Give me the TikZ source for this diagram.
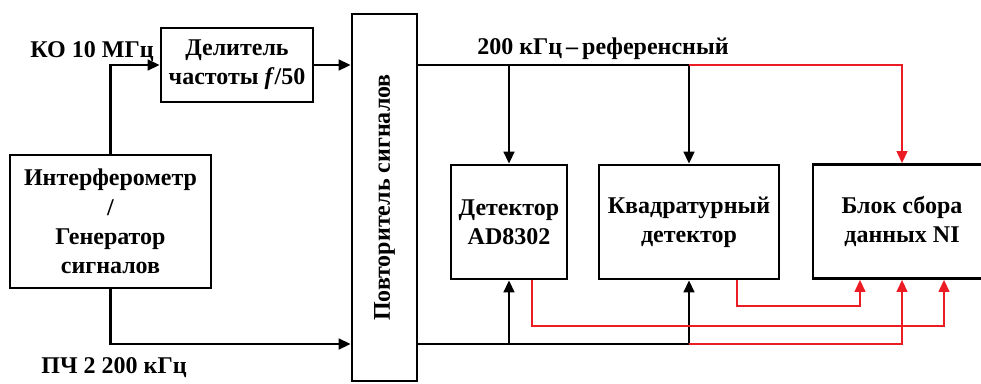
\documentclass[tikz,border=0pt]{standalone}
\usepackage{fontspec}
\setmainfont{Liberation Serif}
\usetikzlibrary{arrows.meta,calc}
\definecolor{sigred}{RGB}{236,28,36}

\begin{document}
\begin{tikzpicture}[x=0.75pt,y=-0.75pt,
    blk/.style={draw,line width=2pt,align=center,inner sep=0pt,font=\fontsize{18}{22}\selectfont\bfseries},
    lbl/.style={inner sep=0pt,font=\fontsize{18}{22}\selectfont\bfseries},
    wire/.style={line width=1.8pt,-{Triangle[length=9pt,width=8pt]}},
    rwire/.style={wire,sigred,line width=1.5pt}]
  \clip (0,0) rectangle (981,383);
  % blocks
  \node[blk,minimum width=150.75pt,minimum height=99.75pt] (ifm) at (110.5,221.5) {Интерферометр\\/\\Генератор\\сигналов};
  \node[blk,minimum width=114pt,minimum height=55.5pt] (div) at (237,65) {Делитель\\частоты \textit{f}/50};
  \node[blk,minimum width=48.75pt,minimum height=275.25pt] (rep) at (384.5,197.5) {};
  \node[lbl,rotate=90] (reptxt) at (rep.center) {Повторитель сигналов};
  \node[blk,minimum width=87pt,minimum height=85.5pt] (ad) at (509,222) {Детектор\\AD8302};
  \node[blk,minimum width=135pt,minimum height=85.5pt] (kd) at (689,222) {Квадратурный\\детектор};
  \node[blk,minimum width=133.5pt,minimum height=85.5pt] (ni) at (902,221.5) {Блок сбора\\данных NI};
  % labels
  \node[lbl] (ko) at (92,52) {КО 10 МГц};
  \node[lbl] (pch) at (114,368) {ПЧ 2 200 кГц};
  \node[lbl,anchor=west] (ref) at (477,49) {200 кГц\,–\,референсный};
  \coordinate (lowbus) at (0,344);
  % inputs
  \draw[wire] (ifm.north) |- (div.west);
  \draw[wire] (div.east) -- (div.east -| rep.west);
  \draw[wire] (ifm.south) |- (rep.west |- lowbus);
  % reference bus
  \draw[line width=1.8pt] (rep.east |- div.east) -- (kd.north |- div.east);
  \draw[wire] (ad.north |- div.east) -- (ad.north);
  \draw[wire] (kd.north |- div.east) -- (kd.north);
  \draw[rwire] (kd.north |- div.east) -| (ni.north);
  % signal bus
  \draw[line width=1.8pt] (rep.east |- lowbus) -- (kd.south |- lowbus);
  \draw[wire] (ad.south |- lowbus) -- (ad.south);
  \draw[wire] (kd.south |- lowbus) -- (kd.south);
  \draw[rwire] (kd.south |- lowbus) -| (ni.south);
  % detector outputs
  \draw[rwire] ($(ad.south)+(23,0)$) -- ++(0,46) -| ($(ni.south)+(42,0)$);
  \draw[rwire] ($(kd.south)+(48,0)$) -- ++(0,26) -| ($(ni.south)+(-42,0)$);
\end{tikzpicture}
\end{document}
